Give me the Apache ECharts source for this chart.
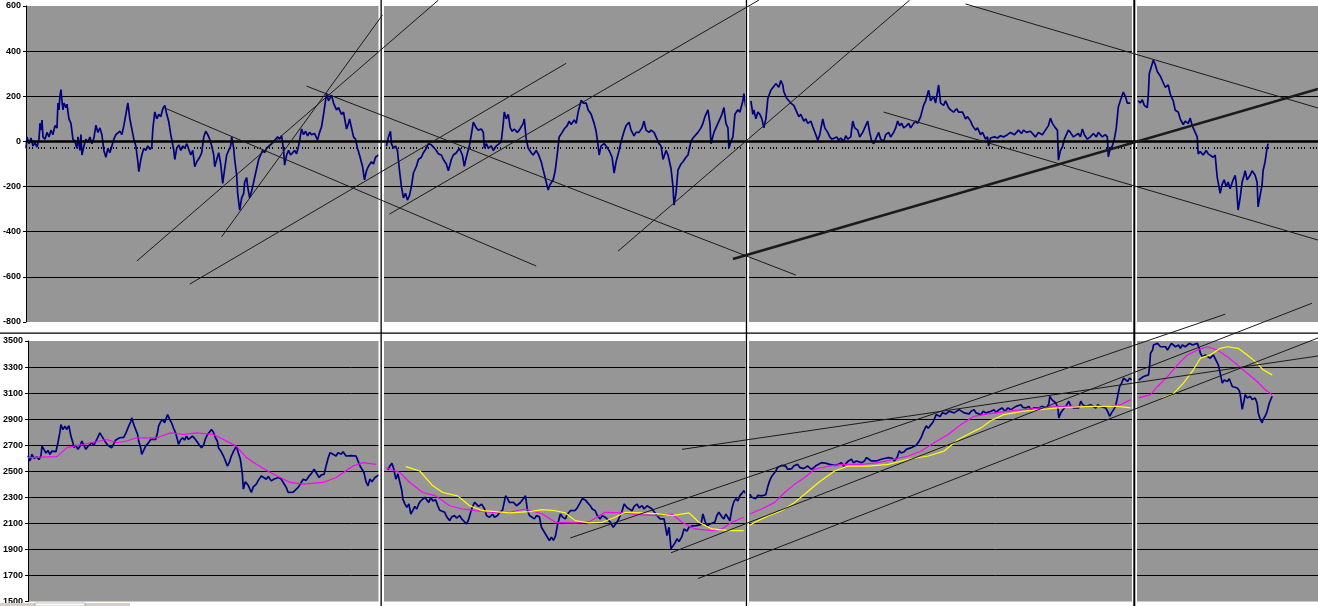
<!DOCTYPE html>
<html><head><meta charset="utf-8">
<script src="https://cdn.jsdelivr.net/npm/echarts@6/dist/echarts.min.js"></script>
<style>html,body{margin:0;padding:0;background:#fff}#c{width:1318px;height:606px}</style>
</head><body><div id="c"></div><script>
// x = trading day index (0..1294), shared by both panels
const dayRange = [0, 1294];
const segmentBreaks = [357, 723, 1110];

// top panel: oscillator
const oscillator = [[0,-30],[1,20],[3,-10],[5,15],[7,-20],[9,-5],[11,-25],[13,10],[14,80],[15,50],[16,95],[17,20],[19,10],[21,40],[23,20],[25,50],[27,30],[29,70],[31,60],[32,170],[33,140],[34,200],[35,230],[36,180],[37,140],[38,170],[40,150],[41,165],[43,100],[45,80],[47,10],[49,0],[51,-30],[52,20],[54,-40],[55,30],[56,-60],[58,-20],[60,10],[62,-5],[64,20],[66,-10],[68,15],[70,72],[72,40],[74,60],[76,30],[78,-40],[80,-70],[82,-30],[84,-50],[86,-20],[88,10],[90,30],[92,25],[94,45],[96,30],[98,70],[100,120],[102,171],[104,100],[106,55],[108,10],[110,-20],[112,-90],[113,-134],[115,-80],[116,-60],[118,-30],[120,-40],[122,-20],[124,-35],[126,-25],[127,55],[129,131],[131,100],[133,120],[135,110],[137,145],[139,160],[141,120],[143,87],[145,30],[146,7],[148,-40],[149,-80],[151,-30],[153,-15],[155,-40],[157,-20],[159,-30],[161,-10],[163,-35],[165,-60],[167,-40],[169,-112],[171,-90],[174,-70],[176,-50],[178,20],[180,45],[182,30],[184,10],[186,-20],[188,-60],[189,-112],[191,-80],[193,-50],[195,-100],[197,-186],[199,-120],[201,-60],[203,-40],[205,-20],[206,20],[208,-30],[209,-80],[211,-150],[212,-230],[214,-304],[216,-250],[218,-230],[219,-180],[221,-160],[222,-200],[224,-250],[226,-220],[229,-160],[231,-120],[233,-80],[235,-60],[237,-40],[239,-50],[241,-30],[243,-35],[246,-10],[249,5],[252,20],[254,10],[256,25],[258,-40],[259,-105],[261,-60],[263,-40],[265,-60],[267,-50],[269,-40],[271,-55],[273,-20],[275,30],[276,55],[278,30],[280,45],[282,25],[284,40],[286,30],[289,35],[292,7],[294,40],[296,65],[298,120],[301,212],[303,180],[306,205],[308,170],[311,140],[313,150],[316,120],[318,130],[321,55],[323,80],[324,100],[326,60],[328,20],[330,10],[332,-30],[334,-60],[337,-110],[339,-170],[341,-130],[343,-110],[346,-90],[348,-100],[350,-70],[353,-60],
[361,-20],[363,20],[365,45],[366,-10],[368,-30],[370,-20],[372,-40],[374,-126],[376,-200],[378,-250],[380,-230],[382,-260],[384,-240],[386,-200],[388,-140],[391,-110],[393,-80],[396,-70],[398,-50],[401,-30],[403,-10],[406,-15],[408,-20],[411,-40],[413,-55],[416,-60],[418,-80],[421,-100],[423,-130],[426,-80],[428,-60],[431,-50],[434,-30],[437,-60],[439,-110],[441,-70],[444,-20],[446,30],[448,85],[451,60],[453,50],[456,55],[458,40],[459,-30],[461,-10],[463,-30],[466,-20],[468,-40],[471,-20],[474,-10],[476,0],[478,80],[479,130],[481,100],[483,120],[485,60],[487,45],[489,55],[492,40],[494,50],[496,45],[498,80],[499,100],[501,10],[503,-30],[506,-50],[508,-60],[511,-40],[513,-55],[516,-90],[518,-126],[521,-180],[523,-215],[525,-190],[528,-170],[530,-130],[532,-60],[534,20],[537,40],[539,55],[542,70],[544,90],[546,75],[549,95],[551,80],[553,130],[556,182],[558,170],[561,170],[563,140],[566,120],[569,80],[571,45],[573,-20],[574,-60],[576,-20],[579,-10],[581,-20],[584,-40],[587,-70],[589,-140],[591,-90],[594,-40],[596,0],[599,45],[601,70],[604,85],[606,50],[609,25],[611,40],[614,40],[617,60],[619,90],[621,50],[624,40],[626,50],[629,40],[631,20],[634,-10],[636,-20],[638,-80],[641,-40],[643,-60],[646,-120],[648,-200],[649,-282],[651,-230],[653,-126],[656,-100],[658,-90],[661,-70],[663,-60],[666,0],[668,15],[671,30],[673,40],[676,60],[678,80],[680,110],[683,140],[685,80],[686,-10],[689,40],[691,60],[694,90],[697,120],[699,150],[701,80],[703,60],[704,-30],[706,0],[708,20],[710,120],[713,140],[715,130],[718,180],[719,212],[721,150],
[726,180],[728,120],[729,140],[731,100],[733,130],[735,120],[737,100],[739,60],[741,100],[743,190],[746,227],[748,220],[751,256],[754,240],[756,270],[758,250],[759,220],[762,190],[764,180],[766,170],[769,160],[771,140],[774,110],[776,120],[779,90],[781,100],[783,80],[786,90],[788,65],[791,30],[793,5],[795,30],[798,100],[800,60],[803,40],[805,20],[807,10],[809,10],[812,20],[814,5],[816,15],[819,0],[821,25],[823,10],[826,20],[828,90],[830,60],[833,50],[835,20],[838,40],[840,60],[843,90],[845,40],[847,0],[849,-10],[852,20],[854,40],[856,10],[859,0],[861,30],[864,40],[866,20],[869,40],[871,60],[873,90],[875,70],[877,80],[879,60],[882,70],[884,80],[886,60],[889,80],[891,90],[893,80],[896,110],[899,160],[901,180],[904,227],[906,180],[909,200],[911,170],[914,250],[916,170],[919,160],[921,180],[924,150],[926,140],[929,130],[932,145],[934,130],[936,135],[938,130],[941,100],[943,110],[946,90],[948,70],[951,50],[953,60],[956,30],[958,40],[961,10],[963,20],[964,-20],[966,15],[968,10],[970,20],[973,15],[976,25],[979,20],[983,30],[986,40],[990,30],[994,50],[997,35],[999,50],[1002,40],[1006,45],[1009,30],[1011,20],[1014,40],[1018,30],[1021,50],[1024,70],[1026,103],[1028,80],[1031,60],[1033,50],[1034,-83],[1036,-40],[1038,-25],[1040,10],[1042,30],[1044,50],[1046,40],[1049,20],[1051,25],[1054,35],[1056,20],[1058,55],[1060,30],[1063,10],[1066,20],[1069,35],[1072,20],[1074,40],[1076,30],[1078,20],[1081,30],[1083,20],[1084,-68],[1086,-30],[1088,-20],[1090,10],[1092,60],[1094,153],[1096,180],[1099,219],[1101,200],[1103,170],[1106,170],
[1114,180],[1116,170],[1118,185],[1120,160],[1123,150],[1124,200],[1125,300],[1127,330],[1129,360],[1131,340],[1133,310],[1136,290],[1138,270],[1141,240],[1144,250],[1146,210],[1149,180],[1151,138],[1154,130],[1156,100],[1159,75],[1161,90],[1164,80],[1166,103],[1168,70],[1170,50],[1173,20],[1174,-55],[1176,-45],[1179,-60],[1182,-40],[1184,-55],[1186,-50],[1189,-70],[1191,-60],[1193,-157],[1196,-230],[1198,-190],[1200,-170],[1202,-200],[1204,-180],[1206,-210],[1209,-170],[1211,-150],[1212,-180],[1214,-304],[1216,-250],[1218,-180],[1220,-150],[1221,-130],[1223,-170],[1226,-150],[1228,-130],[1231,-150],[1233,-180],[1234,-290],[1236,-240],[1238,-190],[1239,-130],[1241,-90],[1243,-30],[1244,-10]];

const oscZero = 0;
const oscSignal = -28;

// top panel trend lines: [[day, value], [day, value]]
const topTrendLines = [
  [[111,-530],[413,626]],
  [[196,-422],[357,560]],
  [[164,-632],[541,346]],
  [[139,148],[511,-552]],
  [[281,245],[771,-592]],
  [[364,-322],[734,626]],
  [[593,-486],[885,626]],
  [[859,130],[1294,-437]],
  [[941,609],[1294,148]]
];
const topBoldTrend = [[708,-521],[1294,232]];

// bottom panel: index level
const price = [[0,2620],[2,2580],[4,2630],[6,2600],[9,2610],[11,2590],[13,2620],[14,2693],[16,2705],[18,2640],[20,2660],[22,2630],[24,2655],[26,2670],[28,2650],[30,2719],[32,2800],[33,2859],[35,2820],[37,2846],[39,2821],[41,2850],[43,2770],[45,2720],[46,2681],[48,2700],[50,2668],[52,2690],[54,2732],[56,2700],[58,2668],[60,2690],[62,2700],[64,2719],[66,2700],[68,2730],[70,2760],[72,2795],[74,2770],[76,2757],[78,2720],[80,2700],[82,2690],[84,2681],[86,2710],[88,2740],[90,2732],[92,2757],[94,2770],[96,2760],[98,2790],[101,2846],[103,2880],[104,2910],[106,2860],[108,2821],[110,2780],[111,2732],[113,2680],[114,2630],[116,2660],[118,2693],[121,2720],[123,2744],[125,2730],[128,2744],[130,2800],[131,2846],[133,2880],[135,2897],[137,2872],[140,2935],[142,2900],[144,2872],[146,2830],[148,2795],[150,2740],[151,2706],[153,2740],[155,2757],[157,2740],[159,2770],[161,2744],[163,2757],[165,2770],[168,2744],[170,2730],[172,2700],[174,2681],[176,2700],[178,2750],[180,2782],[182,2800],[184,2821],[186,2800],[188,2757],[190,2730],[191,2681],[193,2660],[196,2617],[198,2580],[200,2540],[202,2570],[204,2617],[206,2650],[209,2693],[211,2640],[213,2592],[215,2480],[216,2363],[218,2420],[219,2414],[221,2390],[224,2337],[226,2380],[229,2401],[231,2430],[234,2464],[236,2450],[239,2439],[241,2460],[244,2426],[247,2440],[249,2426],[251,2452],[254,2440],[256,2414],[259,2376],[261,2337],[263,2350],[266,2340],[268,2350],[271,2376],[273,2400],[276,2439],[279,2430],[282,2464],[284,2480],[287,2515],[289,2490],[292,2452],[294,2470],[297,2477],[299,2540],[301,2600],[303,2643],[306,2630],[309,2617],[311,2643],[314,2630],[316,2650],[319,2617],[321,2630],[324,2620],[326,2630],[329,2617],[331,2580],[333,2540],[335,2515],[337,2490],[339,2420],[341,2388],[343,2440],[345,2420],[348,2452],[350,2440],[353,2477],[355,2490],
[361,2510],[363,2540],[365,2561],[367,2515],[369,2439],[371,2480],[373,2470],[375,2350],[376,2286],[378,2250],[380,2223],[382,2250],[384,2172],[386,2200],[388,2230],[390,2210],[392,2250],[394,2273],[396,2261],[398,2300],[400,2280],[402,2261],[404,2299],[406,2273],[409,2280],[411,2235],[413,2200],[415,2210],[418,2185],[420,2150],[423,2121],[425,2150],[428,2159],[430,2140],[433,2160],[435,2134],[437,2120],[440,2095],[442,2130],[444,2185],[446,2230],[448,2261],[450,2248],[452,2230],[455,2248],[458,2210],[460,2159],[463,2147],[466,2170],[468,2147],[471,2160],[473,2185],[476,2200],[479,2311],[481,2290],[483,2260],[485,2250],[487,2261],[490,2235],[492,2248],[494,2260],[496,2248],[499,2311],[501,2200],[503,2160],[505,2159],[508,2134],[510,2159],[513,2150],[515,2070],[518,2032],[520,2020],[523,1968],[525,1994],[527,1970],[529,2000],[531,2083],[534,2172],[536,2150],[539,2134],[541,2170],[544,2197],[546,2185],[549,2200],[551,2220],[554,2261],[556,2290],[559,2280],[561,2261],[564,2235],[566,2210],[569,2197],[571,2160],[574,2134],[576,2159],[579,2147],[581,2150],[584,2110],[587,2070],[589,2090],[591,2110],[594,2160],[596,2197],[598,2248],[601,2220],[603,2210],[606,2197],[608,2230],[611,2248],[613,2220],[616,2235],[618,2210],[621,2235],[623,2220],[626,2210],[628,2197],[631,2159],[634,2134],[636,2140],[638,2134],[641,2006],[643,2070],[645,1904],[647,1891],[649,1950],[651,1981],[653,1960],[656,2000],[658,2057],[661,2040],[663,2070],[666,2080],[668,2095],[670,2083],[672,2070],[675,2090],[677,2172],[679,2120],[681,2080],[684,2095],[686,2108],[689,2110],[691,2160],[693,2185],[696,2150],[698,2134],[700,2172],[702,2160],[704,2120],[706,2210],[708,2265],[710,2290],[712,2273],[714,2311],[716,2330],[718,2350],[720,2330],
[724,2324],[726,2300],[728,2311],[730,2290],[732,2315],[734,2300],[736,2311],[738,2299],[740,2320],[742,2380],[744,2428],[746,2460],[748,2480],[750,2500],[752,2530],[754,2515],[756,2545],[758,2553],[760,2540],[762,2515],[764,2502],[766,2520],[768,2540],[770,2528],[772,2553],[774,2530],[776,2540],[778,2520],[780,2528],[782,2540],[784,2530],[786,2515],[788,2528],[790,2540],[793,2553],[796,2566],[798,2579],[801,2560],[804,2553],[806,2566],[809,2545],[811,2560],[813,2553],[816,2566],[818,2540],[820,2553],[823,2579],[826,2592],[828,2566],[831,2579],[833,2592],[836,2566],[839,2579],[841,2605],[843,2592],[846,2579],[848,2592],[851,2579],[853,2566],[856,2592],[858,2579],[860,2600],[863,2605],[865,2592],[867,2600],[869,2579],[872,2610],[874,2657],[876,2640],[879,2650],[881,2668],[883,2660],[886,2681],[888,2670],[891,2700],[894,2733],[896,2760],[898,2800],[901,2848],[903,2830],[906,2860],[908,2880],[911,2935],[913,2950],[915,2920],[917,2948],[919,2961],[921,2940],[924,2961],[926,2950],[929,2948],[931,2961],[934,2973],[936,2961],[939,2948],[941,2961],[944,2940],[946,2961],[949,2973],[951,2948],[953,2961],[956,2935],[958,2961],[961,2948],[963,2961],[966,2961],[969,2973],[971,2950],[974,2973],[977,2986],[980,2961],[983,2986],[986,2973],[988,2986],[991,2998],[993,2986],[996,3011],[998,2990],[1001,2986],[1004,2998],[1006,2973],[1009,2986],[1011,2998],[1014,2986],[1017,2998],[1019,3000],[1022,2986],[1024,3020],[1025,3075],[1027,3050],[1029,3037],[1031,3024],[1033,2990],[1034,2910],[1036,2950],[1038,2970],[1041,2998],[1043,3011],[1044,3037],[1046,3000],[1049,2986],[1051,2998],[1054,2986],[1056,3037],[1058,3011],[1061,2998],[1063,2986],[1066,3011],[1068,2998],[1071,2986],[1073,3011],[1076,2998],[1078,2998],[1081,2986],[1083,2960],[1085,2922],[1087,2950],[1089,2973],[1091,3000],[1093,3075],[1095,3150],[1097,3177],[1099,3215],[1101,3202],[1103,3190],[1105,3215],[1107,3202],
[1114,3200],[1116,3215],[1119,3227],[1121,3215],[1124,3240],[1125,3300],[1126,3406],[1128,3430],[1129,3469],[1131,3456],[1133,3482],[1136,3456],[1138,3444],[1141,3456],[1143,3431],[1145,3456],[1147,3482],[1149,3469],[1151,3456],[1154,3469],[1156,3444],[1158,3469],[1161,3456],[1163,3469],[1165,3482],[1168,3469],[1170,3456],[1173,3482],[1175,3440],[1176,3406],[1178,3380],[1181,3393],[1183,3380],[1186,3368],[1189,3393],[1191,3380],[1194,3317],[1196,3250],[1198,3177],[1200,3200],[1203,3189],[1205,3210],[1208,3151],[1210,3160],[1213,3139],[1215,3120],[1216,3088],[1218,2975],[1220,3050],[1221,3088],[1223,3063],[1226,3075],[1228,3050],[1231,3063],[1233,3020],[1234,2950],[1236,2900],[1238,2872],[1239,2900],[1241,2922],[1243,2960],[1245,3020],[1248,3076]];

const averageMagenta = [[0,2605],[29,2612],[39,2681],[63,2719],[79,2744],[89,2719],[99,2732],[109,2757],[129,2757],[143,2795],[156,2782],[169,2795],[186,2782],[196,2744],[209,2693],[219,2605],[229,2553],[243,2490],[253,2452],[263,2414],[276,2401],[296,2414],[309,2452],[326,2540],[336,2566],[349,2553],[359,2528],[373,2490],[383,2414],[396,2337],[409,2311],[423,2235],[436,2210],[449,2197],[466,2185],[483,2185],[499,2210],[516,2172],[529,2108],[549,2103],[563,2113],[579,2185],[596,2180],[616,2165],[633,2159],[646,2172],[656,2108],[669,2057],[686,2044],[696,2057],[706,2108],[718,2147],[724,2172],[736,2210],[749,2261],[759,2337],[769,2401],[779,2452],[789,2515],[803,2540],[816,2553],[836,2553],[853,2566],[869,2592],[883,2617],[896,2655],[909,2719],[923,2782],[936,2859],[949,2922],[963,2940],[983,2961],[999,2973],[1016,2986],[1033,2998],[1083,2998],[1096,3011],[1106,3050],[1114,3063],[1126,3088],[1133,3151],[1143,3227],[1153,3317],[1163,3393],[1173,3431],[1183,3456],[1193,3431],[1203,3380],[1213,3317],[1223,3253],[1233,3189],[1241,3126],[1248,3088]];

const averageYellow = [[379,2536],[393,2502],[406,2388],[416,2337],[431,2311],[443,2235],[456,2197],[469,2190],[483,2180],[503,2190],[516,2205],[529,2197],[539,2180],[549,2121],[563,2103],[576,2108],[589,2147],[599,2185],[616,2180],[633,2172],[646,2159],[663,2180],[673,2108],[686,2057],[703,2044],[718,2044],[724,2083],[729,2108],[743,2159],[756,2197],[769,2261],[779,2324],[793,2414],[809,2502],[823,2540],[843,2540],[863,2553],[883,2592],[903,2617],[919,2655],[933,2744],[946,2795],[956,2833],[966,2890],[979,2935],[999,2961],[1033,2986],[1066,2998],[1093,2998],[1106,2986],[1138,3063],[1148,3088],[1159,3177],[1169,3279],[1176,3368],[1186,3393],[1196,3444],[1203,3456],[1214,3444],[1223,3393],[1233,3330],[1239,3279],[1248,3240]];

const bottomTrendLines = [
  [[544,1988],[1201,3706]],
  [[656,2668],[1294,3385]],
  [[645,1874],[1288,3790]],
  [[672,1676],[1294,3523]]
];

function withBreaks(data) {
  const out = [];
  for (let i = 0; i < data.length; i++) {
    if (i > 0) {
      for (const b of segmentBreaks) {
        if (data[i-1][0] < b && data[i][0] > b) out.push([b, '-']);
      }
    }
    out.push(data[i]);
  }
  return out;
}

const FONT = 'Liberation Sans';
function yAxisCfg(grid, min, max) {
  return {
    type: 'value', gridIndex: grid, min: min, max: max, interval: 200,
    axisLine: { show: true, lineStyle: { color: '#000', width: 1 } },
    axisTick: { show: true, length: 3, lineStyle: { color: '#000' } },
    axisLabel: { color: '#000', fontSize: 9, fontWeight: 'bold', fontFamily: FONT, margin: 5,
                 formatter: function (v) { return String(v); } },
    splitLine: { show: true, showMinLine: false, showMaxLine: false, lineStyle: { color: '#000', width: 1 } }
  };
}
function trendSeries(line, x, y, width) {
  return {
    type: 'line', xAxisIndex: x, yAxisIndex: y, data: line, showSymbol: false, symbol: 'none',
    clip: false, silent: true, z: 6,
    lineStyle: { color: '#1a1a1a', width: width || 1 }
  };
}

const series = [
  {
    type: 'line', xAxisIndex: 0, yAxisIndex: 0, data: withBreaks(oscillator),
    showSymbol: false, symbol: 'none', connectNulls: false, z: 2,
    lineStyle: { color: '#000080', width: 1.7 },
    markLine: {
      silent: true, symbol: 'none', label: { show: false },
      data: [
        { yAxis: oscZero, lineStyle: { color: '#000', width: 2.5, type: 'solid' } },
        { yAxis: oscSignal, lineStyle: { color: '#000', width: 2, type: [1, 2, 1, 2, 1, 5] } }
      ]
    }
  },
  {
    type: 'line', xAxisIndex: 1, yAxisIndex: 1, data: withBreaks(price),
    showSymbol: false, symbol: 'none', connectNulls: false, z: 2,
    lineStyle: { color: '#000080', width: 1.7 }
  },
  {
    type: 'line', xAxisIndex: 1, yAxisIndex: 1, data: withBreaks(averageMagenta),
    showSymbol: false, symbol: 'none', connectNulls: false, z: 3,
    lineStyle: { color: '#ff00ff', width: 1.2 }
  },
  {
    type: 'line', xAxisIndex: 1, yAxisIndex: 1, data: withBreaks(averageYellow),
    showSymbol: false, symbol: 'none', connectNulls: false, z: 3,
    lineStyle: { color: '#ffff00', width: 1.2 }
  }
];
topTrendLines.forEach(l => series.push(trendSeries(l, 0, 0, 1)));
series.push(trendSeries(topBoldTrend, 0, 0, 2.5));
bottomTrendLines.forEach(l => series.push(trendSeries(l, 1, 1, 1)));

function sep(x, w, lineX, lineW) {
  return [
    { type: 'rect', z: 4, silent: true, shape: { x: x, y: 0, width: w, height: 606 }, style: { fill: '#ffffff' } },
    { type: 'rect', z: 4, silent: true, shape: { x: lineX, y: 0, width: lineW, height: 606 }, style: { fill: '#000000' } }
  ];
}

const option = {
  animation: false,
  backgroundColor: '#ffffff',
  grid: [
    { left: 24, right: 0, top: 6, height: 316, show: true, backgroundColor: '#969696', borderWidth: 0 },
    { left: 24, right: 0, top: 341, height: 264, show: true, backgroundColor: '#969696', borderWidth: 0 }
  ],
  xAxis: [
    { type: 'value', gridIndex: 0, min: dayRange[0], max: dayRange[1], show: false },
    { type: 'value', gridIndex: 1, min: dayRange[0], max: dayRange[1], show: false }
  ],
  yAxis: [ yAxisCfg(0, -800, 600), yAxisCfg(1, 1500, 3500) ],
  graphic: {
    elements: [].concat(
      sep(378.5, 5.5, 380.5, 1.3),
      sep(745.5, 3.5, 745.8, 1.3),
      sep(1132, 5, 1133.3, 2),
      [
        { type: 'rect', z: 4, silent: true, shape: { x: 0, y: 332.5, width: 1318, height: 1.2 }, style: { fill: '#000' } },
        { type: 'rect', z: 4, silent: true, shape: { x: 0, y: 603, width: 130, height: 3 }, style: { fill: '#d4d0c8' } },
        { type: 'rect', z: 4, silent: true, shape: { x: 35, y: 603, width: 50, height: 3 }, style: { fill: '#ffffff', stroke: '#808080', lineWidth: 0.5 } }
      ]
    )
  },
  series: series
};

const chart = echarts.init(document.getElementById('c'), null, { renderer: 'canvas' });
chart.setOption(option);
</script></body></html>
